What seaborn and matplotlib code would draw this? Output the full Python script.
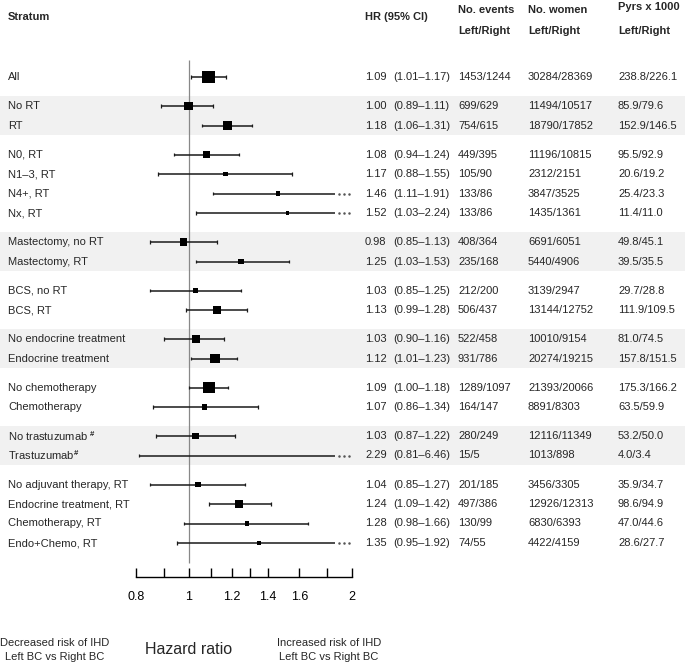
import numpy as np
import pandas as pd
import matplotlib.pyplot as plt
import seaborn as sns
from matplotlib.transforms import blended_transform_factory
from matplotlib.patches import Rectangle

sns.set_style('white')
plt.rcParams['font.family'] = ['Liberation Sans', 'DejaVu Sans']
plt.rcParams['mathtext.fontset'] = 'custom'
plt.rcParams['mathtext.rm'] = 'Liberation Sans'
plt.rcParams['mathtext.bf'] = 'Liberation Sans:bold'
plt.rcParams['mathtext.default'] = 'rm'

strata = ['All', 'No RT', 'RT', 'N0, RT', 'N1\u20133, RT', 'N4+, RT', 'Nx, RT',
          'Mastectomy, no RT', 'Mastectomy, RT', 'BCS, no RT', 'BCS, RT',
          'No endocrine treatment', 'Endocrine treatment', 'No chemotherapy',
          'Chemotherapy', r'No trastuzumab $^{\mathbf{\#}}$', r'Trastuzumab$^{\mathbf{\#}}$',
          'No adjuvant therapy, RT', 'Endocrine treatment, RT',
          'Chemotherapy, RT', 'Endo+Chemo, RT']
groups = [0, 1, 1, 2, 2, 2, 2, 3, 3, 4, 4, 5, 5, 6, 6, 7, 7, 8, 8, 8, 8]
shaded_groups = [1, 3, 5, 7]
hr = [1.09, 1.00, 1.18, 1.08, 1.17, 1.46, 1.52, 0.98, 1.25, 1.03, 1.13,
      1.03, 1.12, 1.09, 1.07, 1.03, 2.29, 1.04, 1.24, 1.28, 1.35]
lo = [1.01, 0.89, 1.06, 0.94, 0.88, 1.11, 1.03, 0.85, 1.03, 0.85, 0.99,
      0.90, 1.01, 1.00, 0.86, 0.87, 0.81, 0.85, 1.09, 0.98, 0.95]
hi = [1.17, 1.11, 1.31, 1.24, 1.55, 1.91, 2.24, 1.13, 1.53, 1.25, 1.28,
      1.16, 1.23, 1.18, 1.34, 1.22, 6.46, 1.27, 1.42, 1.66, 1.92]
events = ['1453/1244', '699/629', '754/615', '449/395', '105/90', '133/86',
          '133/86', '408/364', '235/168', '212/200', '506/437', '522/458',
          '931/786', '1289/1097', '164/147', '280/249', '15/5', '201/185',
          '497/386', '130/99', '74/55']
women = ['30284/28369', '11494/10517', '18790/17852', '11196/10815',
         '2312/2151', '3847/3525', '1435/1361', '6691/6051', '5440/4906',
         '3139/2947', '13144/12752', '10010/9154', '20274/19215',
         '21393/20066', '8891/8303', '12116/11349', '1013/898', '3456/3305',
         '12926/12313', '6830/6393', '4422/4159']
pyrs = ['238.8/226.1', '85.9/79.6', '152.9/146.5', '95.5/92.9', '20.6/19.2',
        '25.4/23.3', '11.4/11.0', '49.8/45.1', '39.5/35.5', '29.7/28.8',
        '111.9/109.5', '81.0/74.5', '157.8/151.5', '175.3/166.2', '63.5/59.9',
        '53.2/50.0', '4.0/3.4', '35.9/34.7', '98.6/94.9', '47.0/44.6',
        '28.6/27.7']
tick_vals = [0.8, 0.9, 1.0, 1.1, 1.2, 1.3, 1.4, 1.6, 1.8, 2.0]
tick_labels = ['0.8', '', '1', '', '1.2', '', '1.4', '1.6', '', '2']

# layout (pixels of a 685x664 canvas)
W, H = 685, 664
row_px, first_px = 19.5, 77
gap = 9.5 / row_px
clip_hi = 1.86

df = pd.DataFrame({'stratum': strata, 'group': groups, 'hr': hr, 'lo': lo, 'hi': hi})
df['pos'] = np.arange(len(df)) + gap * df['group']
info = 1 / np.log(df['hi'] / df['lo'])
side_px = 1.7 * info + 1.3
df['box'] = side_px ** 2

fig = plt.figure(figsize=(W / 100, H / 100), dpi=100)
ax = fig.add_axes([136 / W, 1 - 577 / H, 216 / W, 517 / H])
ax.patch.set_visible(False)
ax.set_xscale('log')
ax.set_xlim(0.8, 2.0)
ax.set_ylim((577 - first_px) / row_px, (60 - first_px) / row_px)
trans = blended_transform_factory(fig.transFigure, ax.transData)

# shaded bands
for g in shaded_groups:
    rows = df[df['group'] == g]
    y0, y1 = rows['pos'].min() - 0.5, rows['pos'].max() + 0.5
    ax.add_patch(Rectangle((0, y0), 1, y1 - y0, transform=trans, clip_on=False,
                           facecolor='#f1f1f1', edgecolor='none', zorder=0))

ax.vlines(1, (60 - first_px) / row_px, (563 - first_px) / row_px,
          color='#888888', lw=0.9, zorder=1)

lc = '#1a1a1a'
for _, r in df.iterrows():
    top = min(r['hi'], clip_hi)
    ax.hlines(r['pos'], r['lo'], top, color=lc, lw=1.1, zorder=2)
    ax.vlines(r['lo'], r['pos'] - 0.08, r['pos'] + 0.08, color=lc, lw=0.9, zorder=2)
    if r['hi'] > clip_hi:
        ax.plot([clip_hi * 1.018, clip_hi * 1.04, clip_hi * 1.062], [r['pos']] * 3,
                ls='none', marker='o', ms=0.8, color='#555555', zorder=2)
    else:
        ax.vlines(r['hi'], r['pos'] - 0.08, r['pos'] + 0.08, color=lc, lw=0.9, zorder=2)

bmax = df['box'].max()
sns.scatterplot(data=df, x='hr', y='pos', size='box',
                sizes=(0, bmax * 0.72 ** 2), size_norm=(0, bmax), marker='s',
                color='black', edgecolor='none', legend=False, ax=ax, zorder=3)

for s in ['top', 'left', 'right']:
    ax.spines[s].set_visible(False)
ax.spines['bottom'].set_color('black')
ax.spines['bottom'].set_linewidth(1)
ax.minorticks_off()
ax.set_xticks(tick_vals)
ax.set_xticklabels(tick_labels)
ax.tick_params(axis='x', bottom=True, direction='in', length=6.5, width=1,
               pad=10, labelsize=9, colors='black')
ax.set_yticks([])
ax.set_xlabel('')
ax.set_ylabel('')
ax.grid(False)

fs = 8
cols = {'hr': 365, 'ci': 393, 'ev': 458, 'wo': 528, 'py': 618}
for i, r in df.iterrows():
    y = r['pos']
    ax.text(8 / W, y, r['stratum'], transform=trans, va='center', fontsize=fs)
    ax.text(cols['hr'] / W, y, f"{r['hr']:.2f}", transform=trans, va='center', fontsize=fs)
    ax.text(cols['ci'] / W, y, f"({r['lo']:.2f}\u2013{r['hi']:.2f})", transform=trans,
            va='center', fontsize=fs)
    ax.text(cols['ev'] / W, y, events[i], transform=trans, va='center', fontsize=fs)
    ax.text(cols['wo'] / W, y, women[i], transform=trans, va='center', fontsize=fs)
    ax.text(cols['py'] / W, y, pyrs[i], transform=trans, va='center', fontsize=fs)

hdr = dict(fontsize=fs, fontweight='bold', va='center')
fig.text(8 / W, 1 - 17 / H, 'Stratum', **hdr)
fig.text(cols['hr'] / W, 1 - 17 / H, 'HR (95% CI)', **hdr)
fig.text(cols['ev'] / W, 1 - 10 / H, 'No. events', **hdr)
fig.text(cols['ev'] / W, 1 - 31 / H, 'Left/Right', **hdr)
fig.text(cols['wo'] / W, 1 - 10 / H, 'No. women', **hdr)
fig.text(cols['wo'] / W, 1 - 31 / H, 'Left/Right', **hdr)
fig.text(cols['py'] / W, 1 - 7 / H, 'Pyrs x 1000', **hdr)
fig.text(cols['py'] / W, 1 - 31 / H, 'Left/Right', **hdr)

fig.text(189 / W, 1 - 649 / H, 'Hazard ratio', fontsize=11.5, ha='center', va='center')
fig.text(55 / W, 1 - 650 / H, 'Decreased risk of IHD\nLeft BC vs Right BC',
         fontsize=8, ha='center', va='center', linespacing=1.55)
fig.text(329 / W, 1 - 650 / H, 'Increased risk of IHD\nLeft BC vs Right BC',
         fontsize=8, ha='center', va='center', linespacing=1.55)

fig.savefig('out.png', dpi=100)
